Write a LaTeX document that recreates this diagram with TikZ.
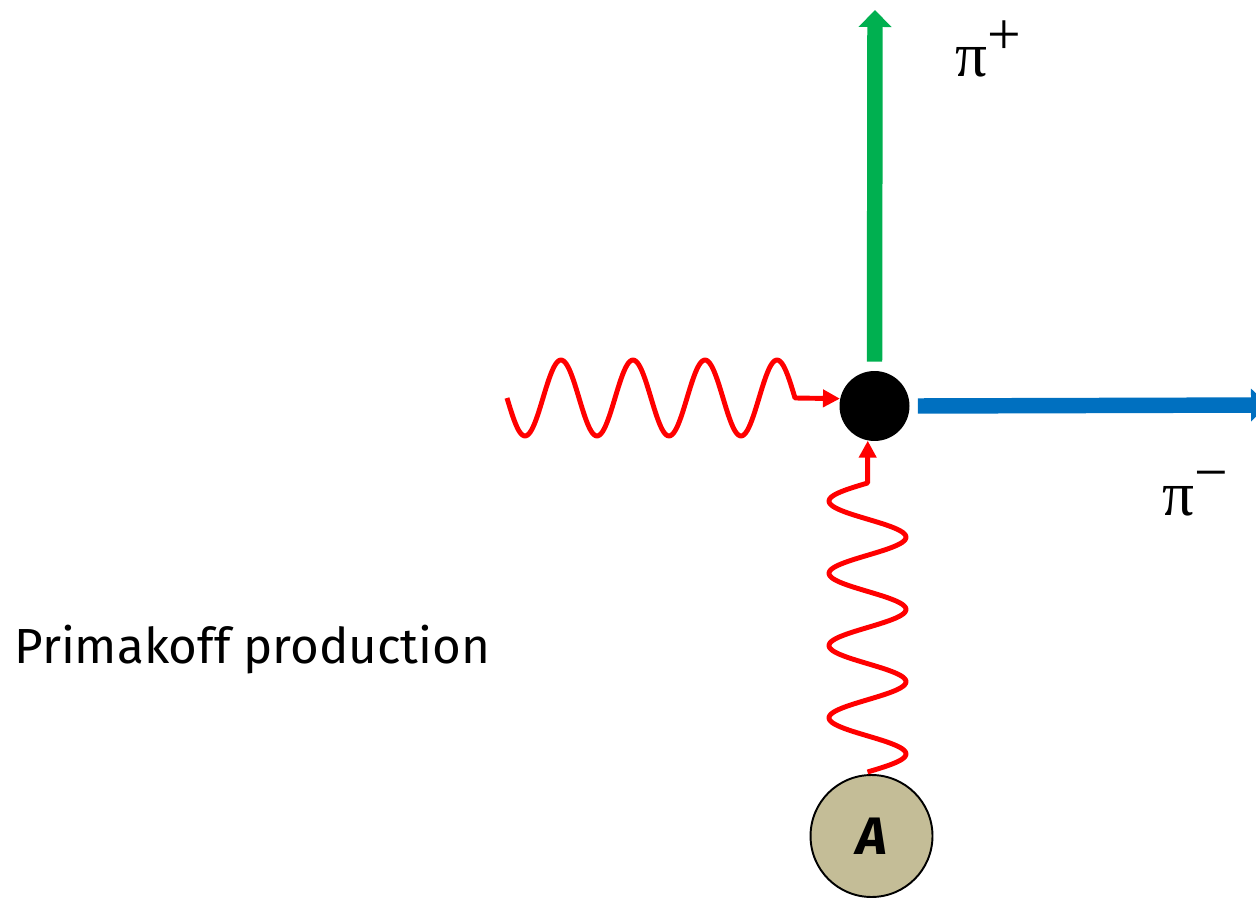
\documentclass[tikz,border=0pt]{standalone}
\usepackage{fontspec}
\setmainfont{Liberation Serif}
\newfontfamily\comicfont{Fira Sans}
\usetikzlibrary{arrows.meta}
\definecolor{pgreen}{HTML}{00B050}
\definecolor{pblue}{HTML}{0070C0}
\definecolor{ptan}{HTML}{C4BD97}
\tikzset{
  photon/.style={draw=red, line width=2.8pt, line join=round},
  redtip/.style={-{Triangle[width=0.34cm,length=0.34cm]}},
  pionline/.style={line width=8.8pt, -{Triangle[width=0.64cm,length=0.34cm]}},
  pilabel/.style={font=\fontsize{36}{40}\selectfont, anchor=base west, inner sep=0pt},
}
\newcommand{\pisup}[1]{\raisebox{0.36em}{\fontsize{34}{38}\selectfont #1}}
\begin{document}
\begin{tikzpicture}[x=0.02cm, y=-0.02cm]
\useasboundingbox (0,0) rectangle (1256,901);
% vertex and nucleus
\node[circle, fill=black, minimum size=1.4cm, inner sep=0pt] (vertex) at (874.5,406) {};
\node[circle, fill=ptan, draw=black, line width=1.1pt, minimum size=2.44cm, inner sep=0pt,
      font=\comicfont\bfseries\itshape\fontsize{30}{34}\selectfont] (nucleus) at (871.5,836) {A};
% pion end points
\coordinate (pipend) at (875,10);
\coordinate (pimend) at (1268,405);
\draw[pionline, draw=pgreen] ([yshift=0.18cm]vertex.north) -- (pipend);
\draw[pionline, draw=pblue] ([xshift=0.16cm]vertex.east) -- (pimend);
% photons
\draw[photon, redtip] plot[domain=507:795, samples=200, smooth] (\x, {398+38*sin(5*(\x-507))}) -- (vertex.168);
\draw[photon, redtip] plot[domain=772:483, samples=200, smooth] ({867.5+38.5*sin(4.983*(772-\x))}, \x) -- (vertex.259);
% labels
\node[pilabel] (piplus) at (955,77) {π\pisup{+}};
\node[pilabel] (piminus) at (1162,515) {π\pisup{−}};
\node[anchor=base west, inner sep=0pt] (title) at (14,663) {\resizebox{9.52cm}{!}{\comicfont Primakoff production}};
\end{tikzpicture}
\end{document}
